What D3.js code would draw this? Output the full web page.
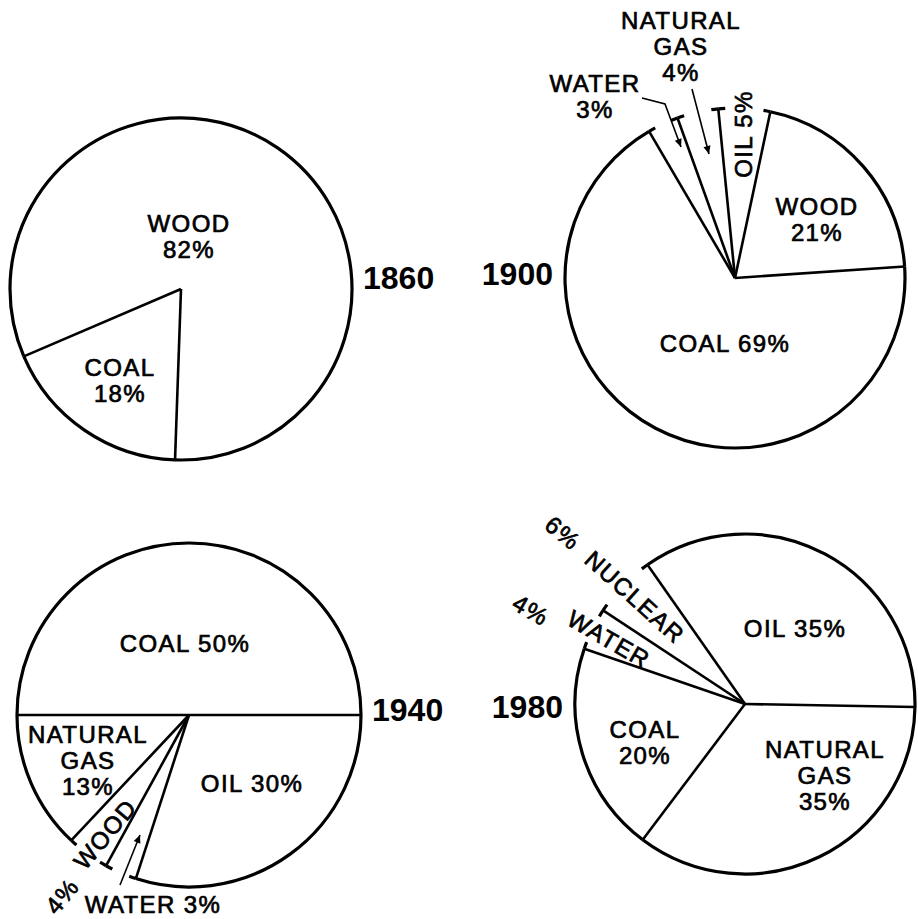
<!DOCTYPE html>
<html>
<head>
<meta charset="utf-8">
<script src="https://cdn.jsdelivr.net/npm/d3@7"></script>
<style>
  body { margin: 0; background: #fff; }
  svg { display: block; }
  .lbl { font-family: "Liberation Sans", Arial, sans-serif; font-size: 24px; letter-spacing: 1.4px;
         fill: #000; stroke: #000; stroke-width: 0.7px; text-anchor: middle; }
  .year { font-family: "Liberation Sans", Arial, sans-serif; font-size: 32px; font-weight: bold; fill: #000; }
</style>
</head>
<body>
<div id="chart-area"></div>
<script>
// data, one set of arrays per year
const years = ["1860", "1900", "1940", "1980"];

const sources1860 = ["COAL", "WOOD"];
const values1860 = [18, 82];

const sources1900 = ["WOOD", "COAL", "WATER", "NATURAL GAS", "OIL"];
const values1900 = [21, 69, 3, 4, 5];

const sources1940 = ["COAL", "OIL", "WATER", "WOOD", "NATURAL GAS"];
const values1940 = [50, 30, 3, 4, 13];

const sources1980 = ["OIL", "NATURAL GAS", "COAL", "WATER", "NUCLEAR"];
const values1980 = [35, 35, 20, 4, 6];

const deg = Math.PI / 180;

// layout per pie: centre, radius, start angle, slices drawn without outer rim
const pies = [
  { year: years[0], sources: sources1860, values: values1860, cx: 181, cy: 289, r: 171, start: 182 * deg, open: [],
    yearPos: { x: 363, y: 289, anchor: "start" } },
  { year: years[1], sources: sources1900, values: values1900, cx: 735, cy: 278, r: 170, start: 12 * deg,
    open: ["WATER", "NATURAL GAS", "OIL"], yearPos: { x: 553, y: 285, anchor: "end" } },
  { year: years[2], sources: sources1940, values: values1940, cx: 189, cy: 715, r: 172, start: -90 * deg,
    open: ["WATER", "WOOD"], yearPos: { x: 372, y: 721, anchor: "start" } },
  { year: years[3], sources: sources1980, values: values1980, cx: 745, cy: 704, r: 170, start: -35 * deg,
    open: ["WATER", "NUCLEAR"], yearPos: { x: 563, y: 718, anchor: "end" } }
];

// label text lines and where they sit relative to the pie centre
const labelPlaces = {
  "1860": {
    "WOOD": { dx: 8, dy: -57, lines: ["WOOD", "82%"] },
    "COAL": { dx: -61, dy: 87, lines: ["COAL", "18%"] }
  },
  "1900": {
    "WOOD": { dx: 82, dy: -63, lines: ["WOOD", "21%"] },
    "COAL": { dx: -10, dy: 74, lines: ["COAL 69%"] },
    "WATER": { dx: -140, dy: -186, lines: ["WATER", "3%"] },
    "NATURAL GAS": { dx: -54, dy: -249, lines: ["NATURAL", "GAS", "4%"] },
    "OIL": { dx: 8, dy: -144, rot: -90, lines: ["OIL 5%"] }
  },
  "1940": {
    "COAL": { dx: -4, dy: -63, lines: ["COAL  50%"] },
    "OIL": { dx: 63, dy: 77, lines: ["OIL  30%"] },
    "NATURAL GAS": { dx: -101, dy: 28, lines: ["NATURAL", "GAS", "13%"] },
    "WOOD": { dx: -84, dy: 119, rot: -50, lines: ["WOOD"] },
    "WOOD%": { dx: -127, dy: 181, rot: -50, lines: ["4%"] },
    "WATER": { dx: -36, dy: 198, lines: ["WATER 3%"] }
  },
  "1980": {
    "OIL": { dx: 50, dy: -67, lines: ["OIL  35%"] },
    "NATURAL GAS": { dx: 80, dy: 54, lines: ["NATURAL", "GAS", "35%"] },
    "COAL": { dx: -100, dy: 34, lines: ["COAL", "20%"] },
    "NUCLEAR": { dx: -110, dy: -107, rot: 42, lines: ["NUCLEAR"] },
    "NUCLEAR%": { dx: -182, dy: -171, rot: 40, lines: ["6%"] },
    "WATER": { dx: -136, dy: -65, rot: 30, lines: ["WATER"] },
    "WATER%": { dx: -214, dy: -94, rot: 30, lines: ["4%"] }
  }
};

// leader arrows, relative to the pie centre
const arrows = {
  "1900": [
    [[-93, -180], [-70, -174], [-54, -131]],
    [[-43, -189], [-26, -124]]
  ],
  "1940": [
    [[-69, 170], [-49, 120]]
  ]
};

const svg = d3.select("#chart-area").append("svg")
  .attr("width", 918).attr("height", 919);

svg.append("defs").append("marker")
  .attr("id", "head")
  .attr("viewBox", "0 0 10 10")
  .attr("refX", 10).attr("refY", 5)
  .attr("markerWidth", 11).attr("markerHeight", 5)
  .attr("markerUnits", "strokeWidth")
  .attr("orient", "auto")
  .append("path").attr("d", "M0,0.5 L10,5 L0,9.5 Z").attr("fill", "#000");

const rimArc = function(r, a0, a1) {
  const p = d3.path();
  p.arc(0, 0, r, a0 - Math.PI / 2, a1 - Math.PI / 2);
  return p.toString();
};

pies.forEach(pie => {
  const data = pie.sources.map((s, i) => ({ source: s, value: pie.values[i] }));
  const arcs = d3.pie().sort(null).value(d => d.value)
    .startAngle(pie.start).endAngle(pie.start + 2 * Math.PI)(data);

  const g = svg.append("g").attr("transform", `translate(${pie.cx},${pie.cy})`);

  g.selectAll("path.wedge").data(arcs).join("path")
    .attr("class", "wedge")
    .attr("d", d3.arc().innerRadius(0).outerRadius(pie.r))
    .attr("fill", "#fff");

  // radial boundaries
  g.selectAll("line.radius").data(arcs).join("line")
    .attr("class", "radius")
    .attr("x1", 0).attr("y1", 0)
    .attr("x2", d => d3.pointRadial(d.startAngle, pie.r)[0])
    .attr("y2", d => d3.pointRadial(d.startAngle, pie.r)[1])
    .attr("stroke", "#000").attr("stroke-width", 2.6);

  // outer rim for closed slices, small ticks for open ones
  const tick = 7 / pie.r;
  arcs.forEach(d => {
    const rim = pie.open.includes(d.data.source)
      ? [rimArc(pie.r, d.startAngle, d.startAngle + tick), rimArc(pie.r, d.endAngle - tick, d.endAngle)]
      : [rimArc(pie.r, d.startAngle, d.endAngle)];
    rim.forEach(p => g.append("path").attr("d", p)
      .attr("fill", "none").attr("stroke", "#000").attr("stroke-width", 3.2));
  });

  // slice labels
  const places = labelPlaces[pie.year];
  Object.keys(places).forEach(k => {
    const lp = places[k];
    const t = g.append("text").attr("class", "lbl")
      .attr("transform", `translate(${lp.dx},${lp.dy})` + (lp.rot ? ` rotate(${lp.rot})` : ""));
    if (lp.rot) t.attr("dy", "0.36em");
    lp.lines.forEach((line, i) => {
      t.append("tspan").attr("x", 0).attr("y", i * 26).text(line);
    });
  });

  (arrows[pie.year] || []).forEach(pts => {
    g.append("path")
      .attr("d", d3.line()(pts))
      .attr("fill", "none").attr("stroke", "#000").attr("stroke-width", 1.6)
      .attr("marker-end", "url(#head)");
  });

  svg.append("text").attr("class", "year")
    .attr("x", pie.yearPos.x).attr("y", pie.yearPos.y)
    .attr("text-anchor", pie.yearPos.anchor)
    .text(pie.year);
});
</script>
</body>
</html>
